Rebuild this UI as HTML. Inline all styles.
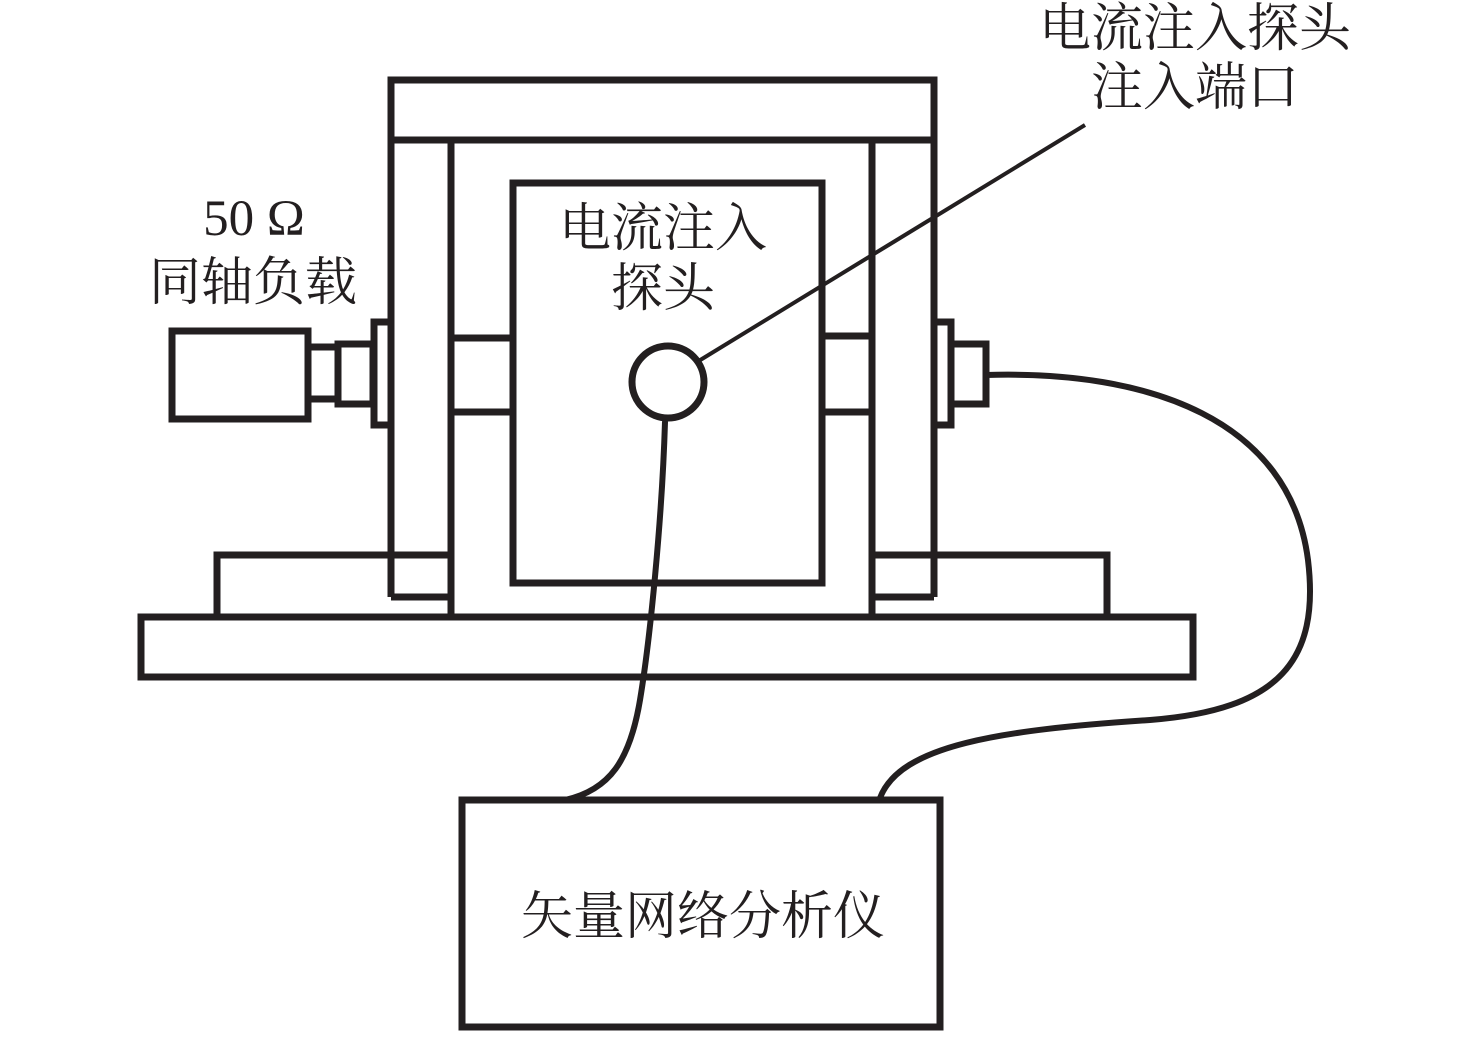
<!DOCTYPE html>
<html><head><meta charset="utf-8"><style>
html,body{margin:0;padding:0;background:#fff;}
svg{display:block;}
text{font-family:"Liberation Serif","Noto Serif CJK SC",serif;fill:#231f20;}
</style></head><body>
<svg width="1476" height="1041" viewBox="0 0 1476 1041" xmlns="http://www.w3.org/2000/svg">
<g fill="none" stroke="#231f20" stroke-width="7" stroke-linejoin="miter">
<rect x="141" y="617" width="1052" height="60"/>
<polyline points="217,617 217,555 451,555"/>
<polyline points="872,555 1107,555 1107,617"/>
<rect x="391" y="80" width="543" height="60"/>
<line x1="391" y1="140" x2="391" y2="597"/>
<line x1="934" y1="140" x2="934" y2="597"/>
<line x1="451" y1="140" x2="451" y2="617"/>
<line x1="872" y1="140" x2="872" y2="617"/>
<line x1="391" y1="597" x2="451" y2="597"/>
<line x1="872" y1="597" x2="934" y2="597"/>
<line x1="451" y1="338" x2="513" y2="338"/>
<line x1="451" y1="412" x2="513" y2="412"/>
<line x1="822" y1="336" x2="872" y2="336"/>
<line x1="822" y1="412" x2="872" y2="412"/>
<rect x="513" y="183" width="309" height="400"/>
<circle cx="668" cy="382" r="36"/>
<rect x="172" y="331" width="136" height="88"/>
<line x1="308" y1="347" x2="338" y2="347"/>
<line x1="308" y1="399" x2="338" y2="399"/>
<rect x="338" y="344" width="35" height="60"/>
<rect x="374" y="322" width="17" height="103"/>
<rect x="934" y="322" width="17" height="103"/>
<rect x="951" y="344" width="35" height="60"/>
<rect x="462" y="800" width="478" height="227"/>
</g>
<g fill="none" stroke="#231f20" stroke-width="4">
<line x1="697" y1="362" x2="1085" y2="125"/>
</g>
<g fill="none" stroke="#231f20" stroke-width="6" stroke-linecap="round">
<path d="M665,422 C662,520 650,640 640,700 C630,760 610,790 565,800"/>
<path d="M986,375 C1150,370 1290,420 1308,560 C1320,660 1280,710 1150,720 C1000,730 900,745 880,798"/>
</g>
<text x="1195" y="46" font-size="52" text-anchor="middle">电流注入探头</text>
<text x="1195" y="105" font-size="52" text-anchor="middle">注入端口</text>
<text x="663" y="246" font-size="52" text-anchor="middle">电流注入</text>
<text x="663" y="306" font-size="52" text-anchor="middle">探头</text>
<text x="254" y="235" font-size="51" text-anchor="middle">50 Ω</text>
<text x="253" y="300" font-size="52" text-anchor="middle">同轴负载</text>
<text x="703" y="934" font-size="52" text-anchor="middle">矢量网络分析仪</text>
</svg>
</body></html>
